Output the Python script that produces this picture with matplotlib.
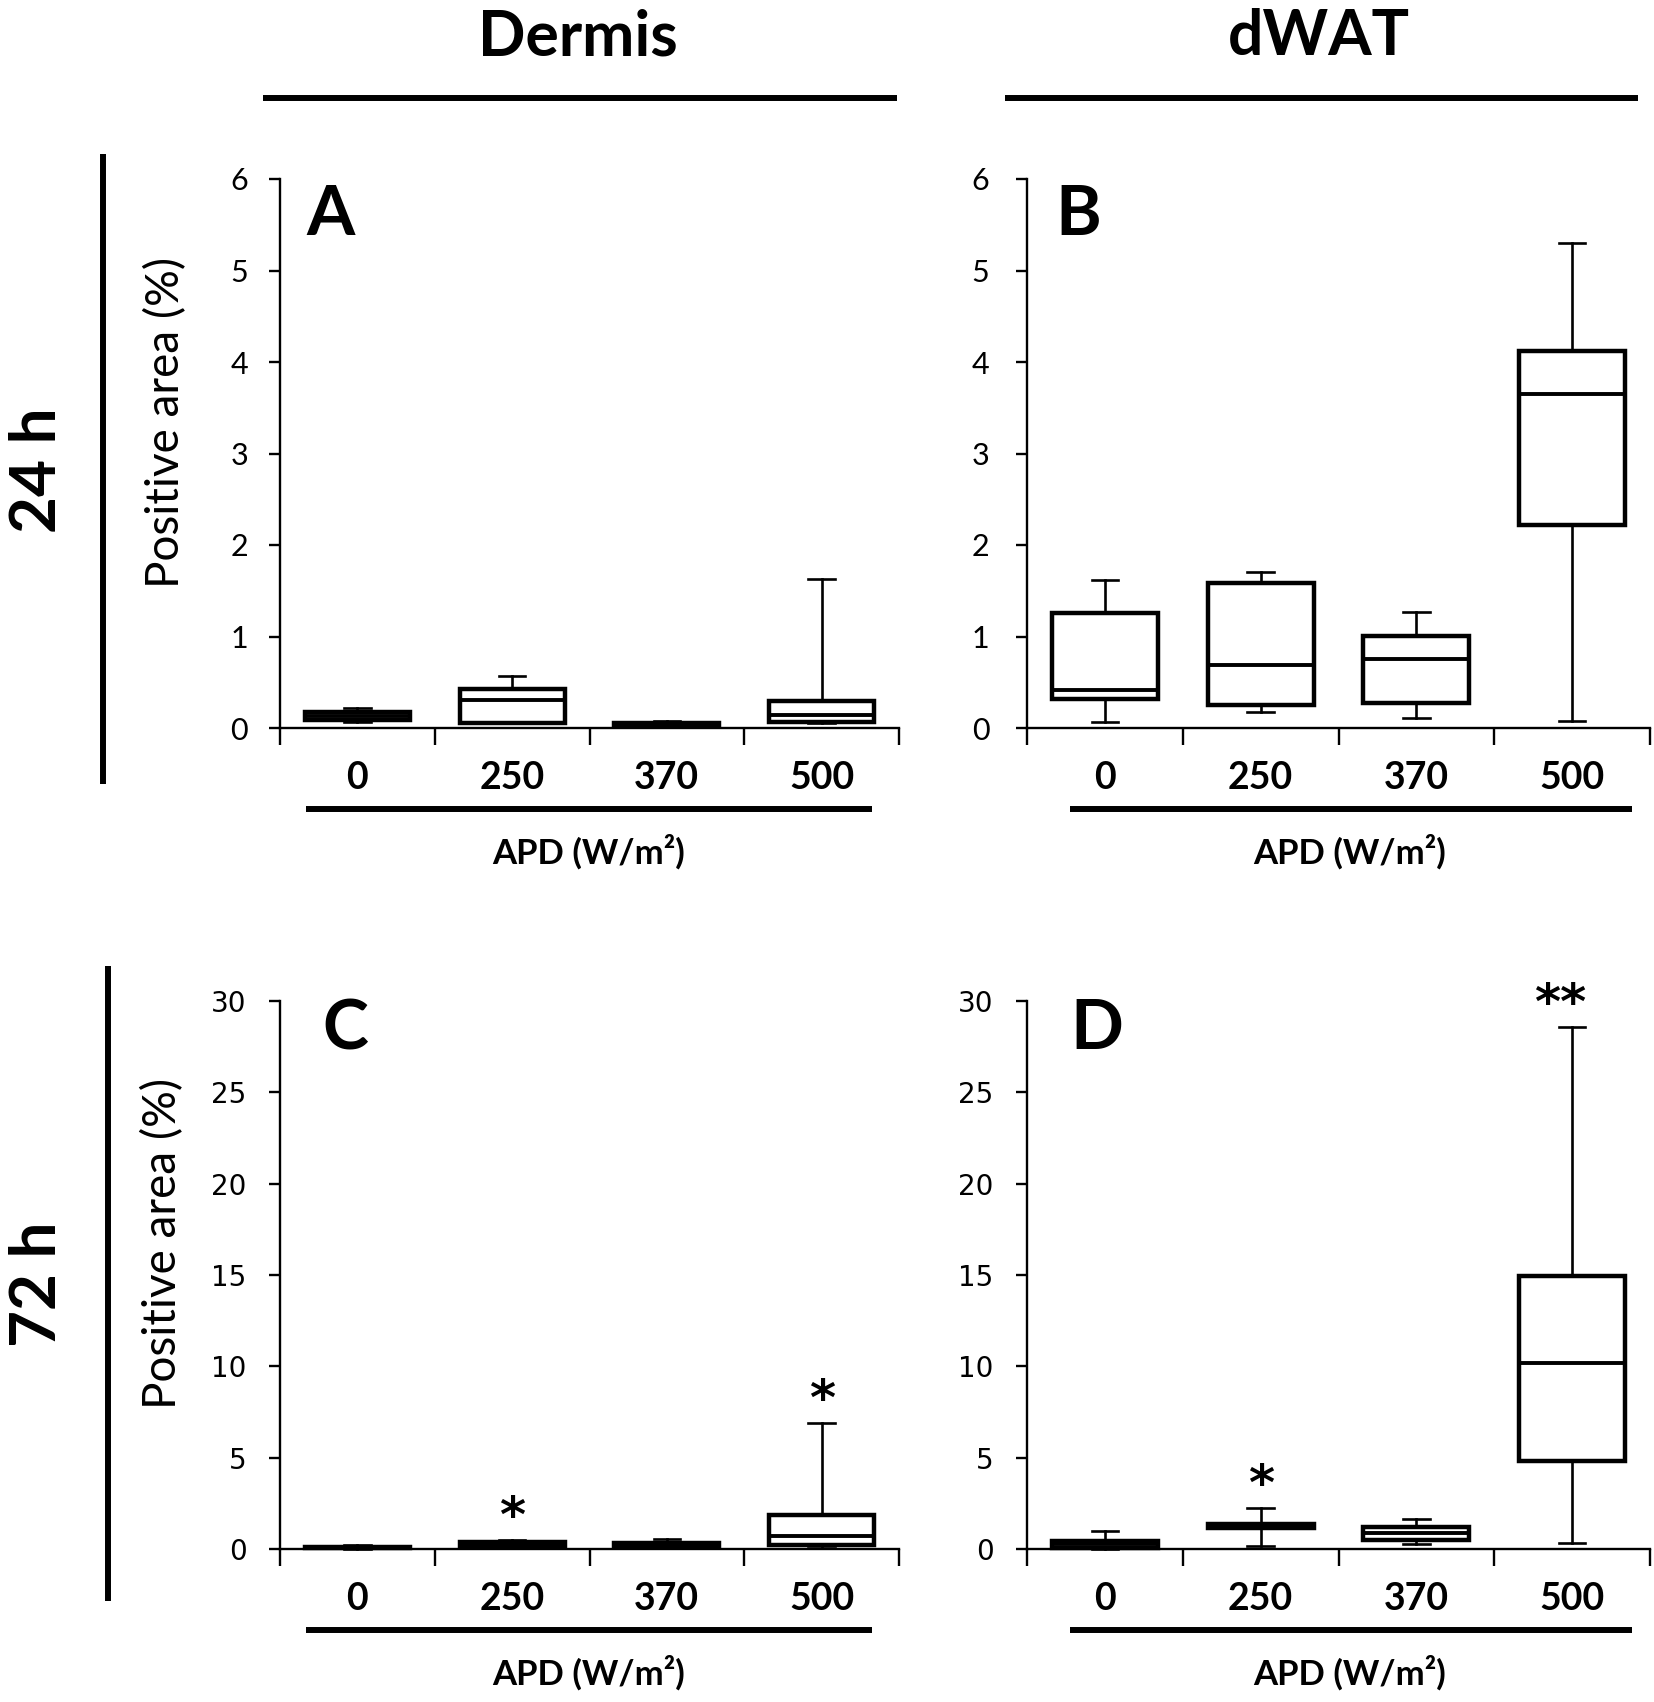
import matplotlib
matplotlib.use('Agg')
import matplotlib.pyplot as plt

# ---------------- data ----------------
groups = ['0', '250', '370', '500']

# Panel A: 24 h, Dermis
A_low = [0.07, 0.05, 0.01, 0.05]
A_q1 = [0.09, 0.06, 0.02, 0.07]
A_med = [0.13, 0.31, 0.04, 0.14]
A_q3 = [0.17, 0.43, 0.06, 0.29]
A_high = [0.22, 0.57, 0.08, 1.63]

# Panel B: 24 h, dWAT
B_low = [0.07, 0.17, 0.11, 0.08]
B_q1 = [0.32, 0.25, 0.27, 2.22]
B_med = [0.42, 0.69, 0.75, 3.65]
B_q3 = [1.26, 1.59, 1.01, 4.12]
B_high = [1.62, 1.70, 1.27, 5.30]

# Panel C: 72 h, Dermis
C_low = [0.01, 0.10, 0.05, 0.05]
C_q1 = [0.03, 0.15, 0.10, 0.20]
C_med = [0.07, 0.25, 0.20, 0.70]
C_q3 = [0.12, 0.38, 0.33, 1.85]
C_high = [0.20, 0.50, 0.55, 6.90]

# Panel D: 72 h, dWAT
D_low = [0.00, 0.18, 0.27, 0.31]
D_q1 = [0.05, 1.15, 0.50, 4.82]
D_med = [0.25, 1.25, 0.85, 10.2]
D_q3 = [0.45, 1.35, 1.22, 14.97]
D_high = [1.00, 2.23, 1.66, 28.6]

C_sig = ['', '*', '', '*']
D_sig = ['', '*', '', '**']

y_max_24 = 6
y_max_72 = 30
yticks_24 = [0, 1, 2, 3, 4, 5, 6]
yticks_72 = [0, 5, 10, 15, 20, 25, 30]

col_titles = ['Dermis', 'dWAT']
row_titles = ['24 h', '72 h']
panel_letters = ['A', 'B', 'C', 'D']
ylabel = 'Positive area (%)'
xlabel = 'APD (W/m²)'

# ---------------- figure ----------------
W, H = 1654, 1702
fig = plt.figure(figsize=(W / 100, H / 100), dpi=100)
FONT = ['Lato', 'DejaVu Sans']
plt.rcParams['font.family'] = FONT

def fx(px):
    return px / W

def fy(py):
    return 1 - py / H

axA = fig.add_axes([fx(280), fy(728), fx(619), 549 / H])
axB = fig.add_axes([fx(1027), fy(728), fx(623), 549 / H])
axC = fig.add_axes([fx(280), fy(1549), fx(619), 548 / H])
axD = fig.add_axes([fx(1027), fy(1549), fx(623), 548 / H])


def draw(ax, low, q1, med, q3, high, ymax, yticks, tickfont, tsize, ypad,
         letter, lx, ly, ul, apdx, sig=None):
    stats = []
    for g, l, a, m, b, h in zip(groups, low, q1, med, q3, high):
        stats.append(dict(label=g, whislo=l, q1=a, med=m, q3=b, whishi=h))
    pos = list(range(1, len(groups) + 1))
    arts = ax.bxp(stats, positions=pos, widths=0.68, capwidths=0.17,
                  showfliers=False, patch_artist=True, manage_ticks=False,
                  boxprops=dict(facecolor='white', edgecolor='black', linewidth=3.2),
                  medianprops=dict(color='black', linewidth=2.8),
                  whiskerprops=dict(color='black', linewidth=1.9),
                  capprops=dict(color='black', linewidth=1.9))
    for key in arts:
        for a in arts[key]:
            a.set_clip_on(False)
    ax.set_xlim(0.5, len(groups) + 0.5)
    ax.set_ylim(0, ymax)
    ax.set_yticks(yticks)
    ax.set_yticklabels([str(t) for t in yticks], fontfamily=tickfont, fontsize=tsize)
    ax.set_xticks([p - 0.5 for p in pos] + [pos[-1] + 0.5])
    ax.set_xticklabels([])
    ax.set_xticks(pos, minor=True)
    ax.set_xticklabels(groups, minor=True, fontsize=27, fontweight='bold')
    ax.tick_params(axis='x', which='major', length=12, width=1.7, direction='out')
    ax.tick_params(axis='x', which='minor', length=0, pad=24)
    ax.tick_params(axis='y', length=8, width=1.7, direction='out', pad=ypad)
    for s in ['top', 'right']:
        ax.spines[s].set_visible(False)
    for s in ['left', 'bottom']:
        ax.spines[s].set_linewidth(1.7)
    ax.text(lx, ly, letter, transform=ax.transAxes, fontsize=50,
            fontweight='bold', ha='center', va='baseline')
    ax.plot(ul, [-0.148, -0.148], transform=ax.transAxes, clip_on=False,
            color='black', lw=4.3, solid_capstyle='butt')
    ax.text(apdx, -0.226, xlabel, transform=ax.transAxes, fontsize=25,
            fontweight='bold', ha='center', va='center')
    if sig is not None:
        for p, s, h in zip(pos, sig, high):
            if s:
                ax.text(p - (0.08 if len(s) > 1 else 0.0), h + 0.04 * ymax, s,
                        fontsize=36, fontweight='bold', ha='center', va='center',
                        fontfamily='DejaVu Sans', clip_on=False)


draw(axA, A_low, A_q1, A_med, A_q3, A_high, y_max_24, yticks_24, FONT, 22, 15,
     panel_letters[0], 0.082, 0.898, [0.042, 0.956], 0.498)
draw(axB, B_low, B_q1, B_med, B_q3, B_high, y_max_24, yticks_24, FONT, 22, 19,
     panel_letters[1], 0.082, 0.898, [0.069, 0.971], 0.517)
draw(axC, C_low, C_q1, C_med, C_q3, C_high, y_max_72, yticks_72, 'DejaVu Sans', 20, 16,
     panel_letters[2], 0.105, 0.912, [0.042, 0.956], 0.498, sig=C_sig)
draw(axD, D_low, D_q1, D_med, D_q3, D_high, y_max_72, yticks_72, 'DejaVu Sans', 20, 16,
     panel_letters[3], 0.112, 0.912, [0.069, 0.971], 0.517, sig=D_sig)

# column headers
fig.text(fx(578), fy(55), col_titles[0], fontsize=45, fontweight='bold',
         ha='center', va='baseline')
fig.text(fx(1319), fy(55), col_titles[1], fontsize=45, fontweight='bold',
         ha='center', va='baseline')
fig.add_artist(plt.Line2D([fx(263), fx(897)], [fy(98), fy(98)], color='black',
                          lw=4.3, solid_capstyle='butt'))
fig.add_artist(plt.Line2D([fx(1005), fx(1638)], [fy(98), fy(98)], color='black',
                          lw=4.3, solid_capstyle='butt'))

# row headers
fig.text(fx(38), fy(470), row_titles[0], fontsize=46, fontweight='bold',
         rotation=90, ha='center', va='center')
fig.text(fx(38), fy(1284), row_titles[1], fontsize=46, fontweight='bold',
         rotation=90, ha='center', va='center')
fig.add_artist(plt.Line2D([fx(103), fx(103)], [fy(154), fy(784)], color='black',
                          lw=4.3, solid_capstyle='butt'))
fig.add_artist(plt.Line2D([fx(108), fx(108)], [fy(966), fy(1601)], color='black',
                          lw=4.3, solid_capstyle='butt'))

# y labels
fig.text(fx(166), fy(422), ylabel, fontsize=33, rotation=90, ha='center', va='center')
fig.text(fx(163), fy(1243), ylabel, fontsize=33, rotation=90, ha='center', va='center')

fig.savefig('out.png', dpi=100)
